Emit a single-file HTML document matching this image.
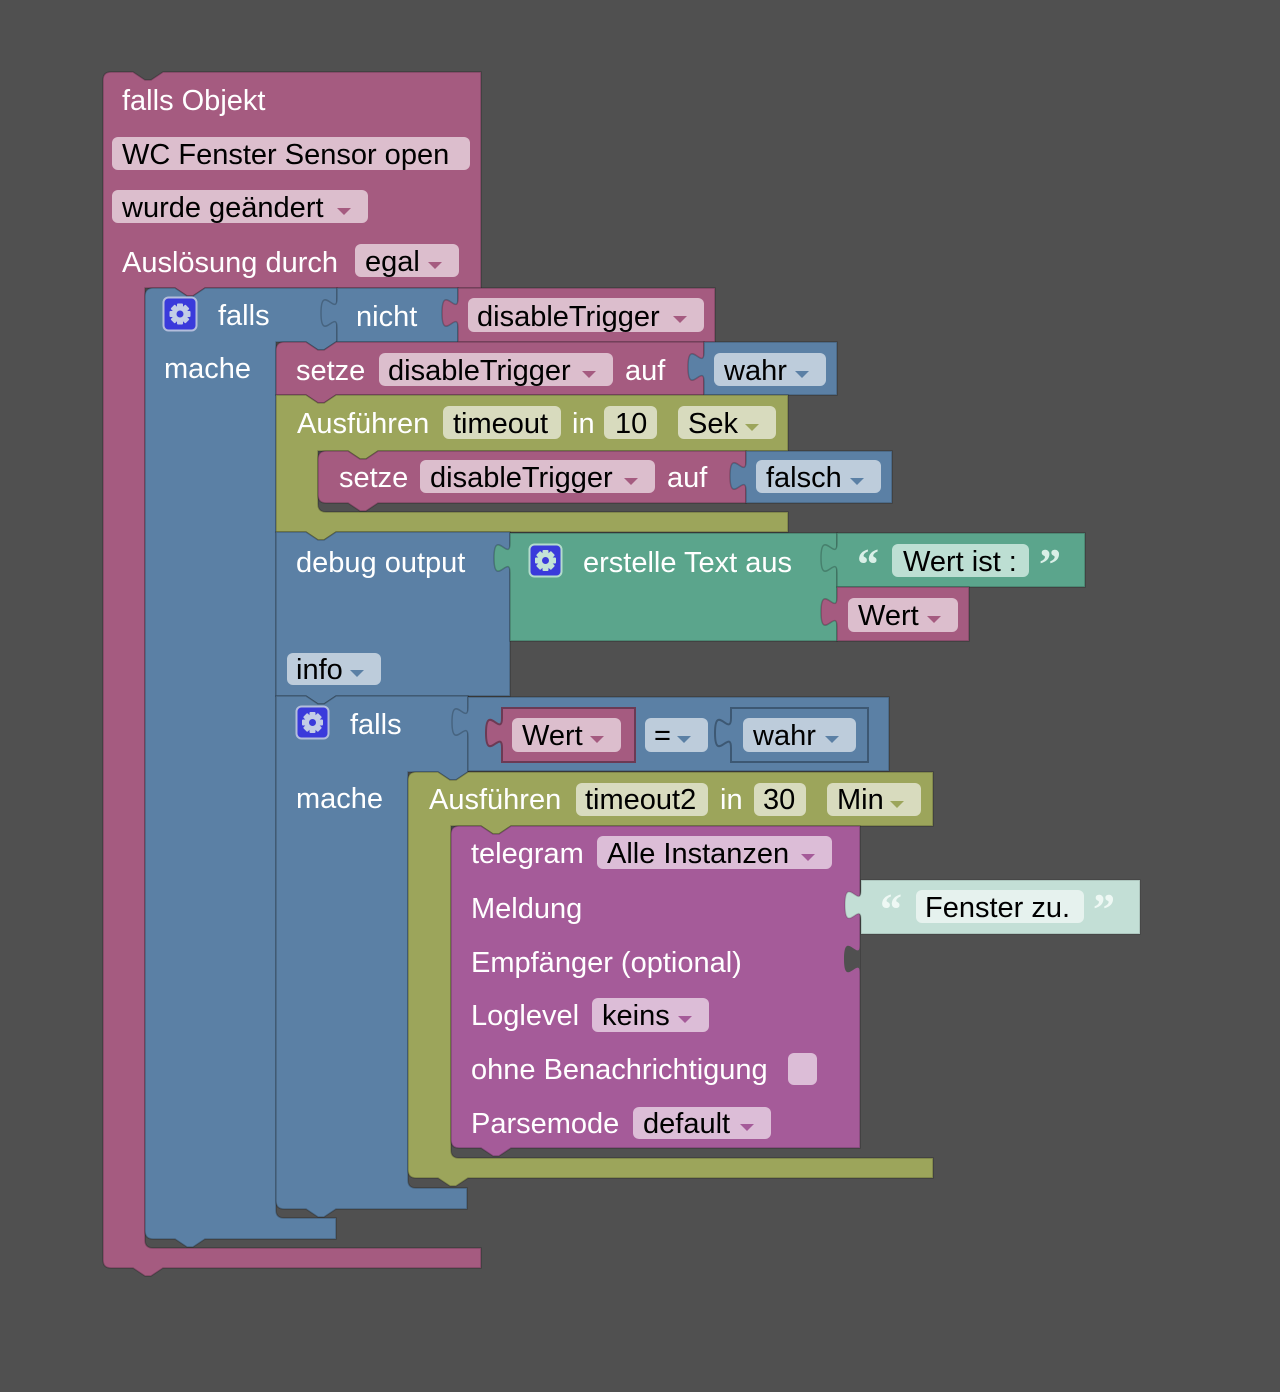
<!DOCTYPE html>
<html><head><meta charset="utf-8">
<style>
html,body{margin:0;padding:0;background:#505050;}
svg{display:block}
text{font-family:"Liberation Sans",Arial,sans-serif;font-size:29px;}
.w{fill:#ffffff}
.k{fill:#000000}
.q{font-family:"Liberation Serif",serif;font-weight:bold;font-size:44px;}
</style></head><body>
<svg width="1280" height="1392" viewBox="0 0 1280 1392" xmlns="http://www.w3.org/2000/svg">
<rect width="1280" height="1392" fill="#505050"/>

<!-- Outer pink block -->
<path d="M 103,80 Q 103,72 111,72 L 133,72 L 145,80 L 151,80 L 163,72 L 481,72 L 481,288 L 205,288 L 193,296 L 187,296 L 175,288 L 145,288 L 145,1240 Q 145,1248 153,1248 L 481,1248 L 481,1268 L 163,1268 L 151,1276 L 145,1276 L 133,1268 L 111,1268 Q 103,1268 103,1260 Z" fill="#a55b80" stroke="rgba(0,0,0,0.22)" stroke-width="1.5"/>

<!-- B1 falls -->
<path d="M 145,296 Q 145,288 153,288 L 175,288 L 187,296 L 193,296 L 205,288 L 337,288 L 337,342 L 336,342 L 324,350 L 318,350 L 306,342 L 276,342 L 276,1210 Q 276,1218 284,1218 L 336,1218 L 336,1239 L 205,1239 L 193,1247 L 187,1247 L 175,1239 L 153,1239 Q 145,1239 145,1231 Z" fill="#5b80a5" stroke="rgba(0,0,0,0.22)" stroke-width="1.5"/>

<!-- nicht -->
<path d="M 337,288 L 458,288 L 458,342 L 337,342 L 337,328 C 337,308 321,344 321,313 C 321,282 337,318 337,298 Z" fill="#5b80a5" stroke="rgba(0,0,0,0.22)" stroke-width="1.5"/>
<!-- disableTrigger var -->
<path d="M 458,288 L 715,288 L 715,342 L 458,342 L 458,328 C 458,308 442,344 442,313 C 442,282 458,318 458,298 Z" fill="#a55b80" stroke="rgba(0,0,0,0.22)" stroke-width="1.5"/>

<!-- S1 setze -->
<path d="M 276,350 Q 276,342 284,342 L 306,342 L 318,350 L 324,350 L 336,342 L 704,342 L 704,395 L 336,395 L 324,403 L 318,403 L 306,395 L 276,395 Z" fill="#a55b80" stroke="rgba(0,0,0,0.22)" stroke-width="1.5"/>
<!-- wahr -->
<path d="M 704,342 L 837,342 L 837,395 L 704,395 L 704,382 C 704,362 688,398 688,367 C 688,336 704,372 704,352 Z" fill="#5b80a5" stroke="rgba(0,0,0,0.22)" stroke-width="1.5"/>

<!-- O1 Ausführen -->
<path d="M 276,395 L 306,395 L 318,403 L 324,403 L 336,395 L 788,395 L 788,451 L 378,451 L 366,459 L 360,459 L 348,451 L 318,451 L 318,504 Q 318,512 326,512 L 788,512 L 788,532 L 336,532 L 324,540 L 318,540 L 306,532 L 276,532 Z" fill="#9ca55b" stroke="rgba(0,0,0,0.22)" stroke-width="1.5"/>

<!-- S2 setze -->
<path d="M 318,459 Q 318,451 326,451 L 348,451 L 360,459 L 366,459 L 378,451 L 746,451 L 746,503 L 378,503 L 366,511 L 360,511 L 348,503 L 326,503 Q 318,503 318,495 Z" fill="#a55b80" stroke="rgba(0,0,0,0.22)" stroke-width="1.5"/>
<!-- falsch -->
<path d="M 746,451 L 892,451 L 892,503 L 746,503 L 746,491 C 746,471 730,507 730,476 C 730,445 746,481 746,461 Z" fill="#5b80a5" stroke="rgba(0,0,0,0.22)" stroke-width="1.5"/>

<!-- D debug output -->
<path d="M 276,532 L 306,532 L 318,540 L 324,540 L 336,532 L 510,532 L 510,696 L 336,696 L 324,704 L 318,704 L 306,696 L 276,696 Z" fill="#5b80a5" stroke="rgba(0,0,0,0.22)" stroke-width="1.5"/>

<!-- T teal -->
<path d="M 510,533 L 837,533 L 837,641 L 510,641 L 510,573 C 510,553 494,589 494,558 C 494,527 510,563 510,543 Z" fill="#5ba58c" stroke="rgba(0,0,0,0.22)" stroke-width="1.5"/>
<!-- Wert ist -->
<path d="M 837,533 L 1085,533 L 1085,587 L 837,587 L 837,573 C 837,553 821,589 821,558 C 821,527 837,563 837,543 Z" fill="#5ba58c" stroke="rgba(0,0,0,0.22)" stroke-width="1.5"/>
<!-- Wert var -->
<path d="M 837,587 L 969,587 L 969,641 L 837,641 L 837,627 C 837,607 821,643 821,612 C 821,581 837,617 837,597 Z" fill="#a55b80" stroke="rgba(0,0,0,0.22)" stroke-width="1.5"/>

<!-- B2 falls -->
<path d="M 276,696 L 306,696 L 318,704 L 324,704 L 336,696 L 468,696 L 468,772 L 456,780 L 450,780 L 438,772 L 408,772 L 408,1180 Q 408,1188 416,1188 L 467,1188 L 467,1209 L 336,1209 L 324,1217 L 318,1217 L 306,1209 L 284,1209 Q 276,1209 276,1201 Z" fill="#5b80a5" stroke="rgba(0,0,0,0.22)" stroke-width="1.5"/>

<!-- Compare -->
<path d="M 468,697 L 889,697 L 889,771 L 468,771 L 468,737 C 468,717 452,753 452,722 C 452,691 468,727 468,707 Z" fill="#5b80a5" stroke="rgba(0,0,0,0.22)" stroke-width="1.5"/>
<path d="M 502,708 L 635,708 L 635,762 L 502,762 L 502,748 C 502,728 486,764 486,733 C 486,702 502,738 502,718 Z" fill="#a55b80" stroke="#6c3a54" stroke-width="2"/>
<path d="M 731,708 L 868,708 L 868,762 L 731,762 L 731,748 C 731,728 715,764 715,733 C 715,702 731,738 731,718 Z" fill="#5b80a5" stroke="#3d5873" stroke-width="2"/>

<!-- O2 Ausführen -->
<path d="M 408,780 Q 408,772 416,772 L 438,772 L 450,780 L 456,780 L 468,772 L 933,772 L 933,826 L 511,826 L 499,834 L 493,834 L 481,826 L 451,826 L 451,1150 Q 451,1158 459,1158 L 933,1158 L 933,1178 L 468,1178 L 456,1186 L 450,1186 L 438,1178 L 416,1178 Q 408,1178 408,1170 Z" fill="#9ca55b" stroke="rgba(0,0,0,0.22)" stroke-width="1.5"/>

<!-- Telegram -->
<path d="M 451,834 Q 451,826 459,826 L 481,826 L 493,834 L 499,834 L 511,826 L 860,826 L 860,1148 L 511,1148 L 499,1156 L 493,1156 L 481,1148 L 459,1148 Q 451,1148 451,1140 Z" fill="#a55b99" stroke="rgba(0,0,0,0.22)" stroke-width="1.5"/>
<!-- Empfänger socket -->
<path d="M 860,944 C 860,964 844,928 844,959 C 844,990 860,954 860,974 Z" fill="#505050"/>

<!-- Fenster zu block -->
<path d="M 861,880 L 1140,880 L 1140,934 L 861,934 L 861,920 C 861,900 845,936 845,905 C 845,874 861,910 861,890 Z" fill="#c3dfd6" stroke="rgba(0,0,0,0.15)" stroke-width="1.5"/>

<!-- ===== Fields ===== -->
<!-- pink fields -->
<g fill="#dcbecd">
<rect x="112" y="137" width="358" height="33" rx="6"/>
<rect x="112" y="190" width="256" height="33" rx="6"/>
<rect x="355" y="244" width="104" height="33" rx="6"/>
<rect x="468" y="298" width="236" height="34" rx="6"/>
<rect x="379" y="353" width="234" height="33" rx="6"/>
<rect x="420" y="460" width="235" height="33" rx="6"/>
<rect x="848" y="598" width="110" height="34" rx="6"/>
<rect x="512" y="718" width="109" height="34" rx="6"/>
</g>
<!-- blue fields -->
<g fill="#bdccdb">
<rect x="714" y="353" width="112" height="33" rx="6"/>
<rect x="756" y="460" width="125" height="33" rx="6"/>
<rect x="287" y="653" width="94" height="32" rx="6"/>
<rect x="645" y="718" width="63" height="34" rx="6"/>
<rect x="743" y="718" width="113" height="34" rx="6"/>
</g>
<!-- olive fields -->
<g fill="#d8dbbe">
<rect x="443" y="406" width="118" height="33" rx="6"/>
<rect x="604" y="406" width="53" height="33" rx="6"/>
<rect x="678" y="406" width="98" height="33" rx="6"/>
<rect x="576" y="783" width="132" height="33" rx="6"/>
<rect x="754" y="783" width="52" height="33" rx="6"/>
<rect x="827" y="783" width="94" height="33" rx="6"/>
</g>
<!-- teal field -->
<rect x="892" y="544" width="137" height="33" rx="6" fill="#bddfd3"/>
<!-- telegram fields -->
<g fill="#dcbdd7">
<rect x="597" y="836" width="235" height="33" rx="6"/>
<rect x="592" y="998" width="117" height="34" rx="6"/>
<rect x="788" y="1053" width="29" height="32" rx="6"/>
<rect x="633" y="1107" width="138" height="32" rx="6"/>
</g>
<!-- Fenster zu field -->
<rect x="916" y="890" width="168" height="33" rx="6" fill="#e6f2ee"/>

<!-- ===== Arrows ===== -->
<g fill="#a55b80">
<polygon points="337,208 351,208 344,215"/>
<polygon points="428,262 442,262 435,269"/>
<polygon points="673,316 687,316 680,323"/>
<polygon points="582,371 596,371 589,378"/>
<polygon points="624,478 638,478 631,485"/>
<polygon points="927,616 941,616 934,623"/>
<polygon points="590,736 604,736 597,743"/>
</g>
<g fill="#5b80a5">
<polygon points="795,371 809,371 802,378"/>
<polygon points="850,478 864,478 857,485"/>
<polygon points="350,670 364,670 357,677"/>
<polygon points="677,736 691,736 684,743"/>
<polygon points="825,736 839,736 832,743"/>
</g>
<g fill="#9ca55b">
<polygon points="745,424 759,424 752,431"/>
<polygon points="890,801 904,801 897,808"/>
</g>
<g fill="#a55b99">
<polygon points="801,854 815,854 808,861"/>
<polygon points="678,1016 692,1016 685,1023"/>
<polygon points="740,1124 754,1124 747,1131"/>
</g>

<!-- ===== Gear icons ===== -->
<g>
<rect x="163.5" y="297.5" width="33" height="33" rx="5" fill="#3a3adb" stroke="#b4bedc" stroke-width="2"/>
<g transform="translate(180,314)" fill="#c3cde6">
<rect x="-3" y="-10.5" width="6" height="21" rx="1"/>
<rect x="-3" y="-10.5" width="6" height="21" rx="1" transform="rotate(45)"/>
<rect x="-3" y="-10.5" width="6" height="21" rx="1" transform="rotate(90)"/>
<rect x="-3" y="-10.5" width="6" height="21" rx="1" transform="rotate(135)"/>
<circle r="7.5"/>
<circle r="3.5" fill="#3a3adb"/>
</g>
</g>
<g>
<rect x="529.5" y="544.5" width="32" height="32" rx="5" fill="#3a3adb" stroke="#b4dccd" stroke-width="2"/>
<g transform="translate(545.5,560.5)" fill="#c3e3d6">
<rect x="-3" y="-10.5" width="6" height="21" rx="1"/>
<rect x="-3" y="-10.5" width="6" height="21" rx="1" transform="rotate(45)"/>
<rect x="-3" y="-10.5" width="6" height="21" rx="1" transform="rotate(90)"/>
<rect x="-3" y="-10.5" width="6" height="21" rx="1" transform="rotate(135)"/>
<circle r="7.5"/>
<circle r="3.5" fill="#3a3adb"/>
</g>
</g>
<g>
<rect x="296.5" y="706.5" width="32" height="32" rx="5" fill="#3a3adb" stroke="#b4bedc" stroke-width="2"/>
<g transform="translate(312.5,722.5)" fill="#c3cde6">
<rect x="-3" y="-10.5" width="6" height="21" rx="1"/>
<rect x="-3" y="-10.5" width="6" height="21" rx="1" transform="rotate(45)"/>
<rect x="-3" y="-10.5" width="6" height="21" rx="1" transform="rotate(90)"/>
<rect x="-3" y="-10.5" width="6" height="21" rx="1" transform="rotate(135)"/>
<circle r="7.5"/>
<circle r="3.5" fill="#3a3adb"/>
</g>
</g>

<!-- ===== Quotes ===== -->
<text class="q" x="857" y="579" fill="#d9efe7">“</text>
<text class="q" x="1039" y="579" fill="#d9efe7">”</text>
<text class="q" x="880" y="924" fill="#eef8f4">“</text>
<text class="q" x="1093" y="924" fill="#eef8f4">”</text>

<!-- ===== White labels ===== -->
<text class="w" x="122" y="110">falls Objekt</text>
<text class="w" x="122" y="272">Auslösung durch</text>
<text class="w" x="218" y="325">falls</text>
<text class="w" x="356" y="326">nicht</text>
<text class="w" x="164" y="378">mache</text>
<text class="w" x="296" y="380">setze</text>
<text class="w" x="625" y="380">auf</text>
<text class="w" x="297" y="433">Ausführen</text>
<text class="w" x="572" y="433">in</text>
<text class="w" x="339" y="487">setze</text>
<text class="w" x="667" y="487">auf</text>
<text class="w" x="296" y="572">debug output</text>
<text class="w" x="583" y="572">erstelle Text aus</text>
<text class="w" x="350" y="734">falls</text>
<text class="w" x="296" y="808">mache</text>
<text class="w" x="429" y="809">Ausführen</text>
<text class="w" x="720" y="809">in</text>
<text class="w" x="471" y="863">telegram</text>
<text class="w" x="471" y="918">Meldung</text>
<text class="w" x="471" y="972">Empfänger (optional)</text>
<text class="w" x="471" y="1025">Loglevel</text>
<text class="w" x="471" y="1079">ohne Benachrichtigung</text>
<text class="w" x="471" y="1133">Parsemode</text>

<!-- ===== Black field text ===== -->
<text class="k" x="122" y="164">WC Fenster Sensor open</text>
<text class="k" x="122" y="217">wurde geändert</text>
<text class="k" x="365" y="271">egal</text>
<text class="k" x="477" y="326">disableTrigger</text>
<text class="k" x="388" y="380">disableTrigger</text>
<text class="k" x="724" y="380">wahr</text>
<text class="k" x="453" y="433">timeout</text>
<text class="k" x="615" y="433">10</text>
<text class="k" x="688" y="433">Sek</text>
<text class="k" x="430" y="487">disableTrigger</text>
<text class="k" x="766" y="487">falsch</text>
<text class="k" x="903" y="571">Wert ist :</text>
<text class="k" x="858" y="625">Wert</text>
<text class="k" x="296" y="679">info</text>
<text class="k" x="522" y="745">Wert</text>
<text class="k" x="654" y="745">=</text>
<text class="k" x="753" y="745">wahr</text>
<text class="k" x="585" y="809">timeout2</text>
<text class="k" x="763" y="809">30</text>
<text class="k" x="837" y="809">Min</text>
<text class="k" x="607" y="863">Alle Instanzen</text>
<text class="k" x="925" y="917">Fenster zu.</text>
<text class="k" x="602" y="1025">keins</text>
<text class="k" x="643" y="1133">default</text>
</svg>
</body></html>
